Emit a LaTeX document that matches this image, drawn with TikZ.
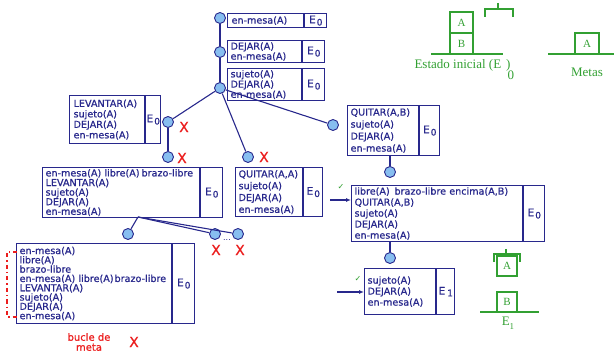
\documentclass[tikz,border=0pt]{standalone}
\usepackage{fontspec}
\setmainfont{DejaVu Sans}
\newfontfamily\stkf{DejaVu Sans}[FakeBold=0.8]
\newfontfamily\tms{Liberation Serif}
\usetikzlibrary{arrows.meta,positioning}
\definecolor{navy}{RGB}{40,40,140}
\definecolor{skyb}{RGB}{135,190,240}
\definecolor{redx}{RGB}{235,30,30}
\definecolor{grn}{RGB}{50,160,50}
\newcommand{\Ez}{E\kern1pt\raisebox{-0.4ex}{\small 0}}
\tikzset{
    x=1pt, y=-1pt,
    link/.style={navy, line width=1.1pt},
    stk/.style={draw=navy, line width=1.2pt, anchor=north west, align=left, inner xsep=3pt, inner ysep=0pt,
        text=navy, font=\stkf\fontsize{9.6}{9.6}\selectfont},
    lead/.style={font=\stkf\fontsize{9.6}{#1}\selectfont},
    ecell/.style={draw=navy, line width=1.2pt, anchor=north west, inner sep=0pt, text=navy,
        font=\stkf\fontsize{10.5}{10.5}\selectfont},
    dot/.style={circle, draw=navy, fill=skyb, line width=0.9pt, minimum size=11pt, inner sep=0pt},
    fail/.style={text=redx, font=\stkf\fontsize{14}{14}\selectfont},
    ok/.style={text=grn, font=\fontsize{8}{8}\selectfont},
    grnline/.style={grn, line width=1.1pt},
    blk/.style={draw=grn, line width=1.1pt, inner sep=0pt, text=grn, font=\tms\fontsize{11}{11}\selectfont},
    glbl/.style={text=grn, font=\tms\fontsize{13}{13}\selectfont}
}
\begin{document}
\begin{tikzpicture}
    \useasboundingbox (0,0) rectangle (615,352);

    % pila de metas inicial
    \node[dot] (c1) at (220,18) {};
    \node[stk, text width=68pt, minimum height=14pt, inner xsep=4pt] (b1) at (227,13) {en-mesa(A)};
    \node[ecell, minimum width=22pt, minimum height=14pt] (e1) at (b1.north east) {\Ez};
    \node[dot] (c2) at (220,52) {};
    \node[stk, lead=10, text width=68pt, minimum height=22pt] (b2) at (227,40) {DEJAR(A)\\en-mesa(A)};
    \node[ecell, minimum width=22pt, minimum height=22pt] (e2) at (b2.north east) {\Ez};
    \node[dot] (c3) at (220,88) {};
    \node[stk, lead=9.2, text width=68pt, minimum height=32pt] (b3) at (227,68) {sujeto(A)\\DEJAR(A)\\en-mesa(A)};
    \node[ecell, minimum width=22pt, minimum height=32pt] (e3) at (b3.north east) {\Ez};

    % ramas
    \node[dot] (c4) at (168,122) {};
    \node[dot] (c5) at (168,157) {};
    \node[dot] (c6) at (248,157) {};
    \node[dot] (c7) at (333,125) {};
    \node[dot] (c8) at (390,172) {};
    \node[dot] (c9) at (390,258) {};
    \node[dot] (c10) at (128,234) {};
    \node[dot] (c11) at (215,234) {};
    \node[dot] (c12) at (238,234) {};
    \coordinate (fork) at (138,217);

    \draw[link] (c1) -- (c2);
    \draw[link] (c2) -- (c3);
    \draw[link] (c3) -- (c4);
    \draw[link] (c3) -- (c6);
    \draw[link] (c3) -- (c7);
    \draw[link] (c4) -- (c5);
    \draw[link] (fork) -- (c10);
    \draw[link] (fork) -- (c11);
    \draw[link] (fork) -- (c12);

    % pilas
    \node[stk, lead=10.5, text width=67pt, minimum height=48pt, inner xsep=4pt] (bl) at (69,95) {LEVANTAR(A)\\sujeto(A)\\DEJAR(A)\\en-mesa(A)};
    \node[ecell, minimum width=15pt, minimum height=48pt] (el) at (bl.north east) {\Ez};

    \node[stk, lead=12, text width=65pt, minimum height=50pt] (bq) at (347,105) {QUITAR(A,B)\\sujeto(A)\\DEJAR(A)\\en-mesa(A)};
    \node[ecell, minimum width=20pt, minimum height=50pt] (eq) at (bq.north east) {\Ez};
    \draw[link] (c8 |- bq.south) -- (c8);

    \node[stk, lead=9.6, text width=151pt, minimum height=50pt] (bl2) at (42,167) {\mbox{en-mesa(A) libre(A)\kern2pt brazo-libre}\\LEVANTAR(A)\\sujeto(A)\\DEJAR(A)\\en-mesa(A)};
    \node[ecell, minimum width=22pt, minimum height=50pt] (el2) at (bl2.north east) {\Ez};

    \node[stk, lead=11.8, text width=61pt, minimum height=49pt] (bqa) at (235,167) {QUITAR(A,A)\\sujeto(A)\\DEJAR(A)\\en-mesa(A)};
    \node[ecell, minimum width=19pt, minimum height=49pt] (eqa) at (bqa.north east) {\Ez};

    \node[stk, lead=11, text width=165pt, minimum height=56pt] (br) at (351,185) {libre(A)\, brazo-libre encima(A,B)\\QUITAR(A,B)\\sujeto(A)\\DEJAR(A)\\en-mesa(A)};
    \node[ecell, minimum width=21pt, minimum height=56pt] (er) at (br.north east) {\Ez};
    \draw[link] (c9 |- br.south) -- (c9);
    \coordinate (qa) at (330,200);
    \draw[link, -{Latex[length=5pt,width=4pt]}] (qa) -- (qa -| br.west);

    \node[stk, lead=11, text width=65pt, minimum height=46pt] (be) at (364,268) {sujeto(A)\\DEJAR(A)\\en-mesa(A)};
    \node[ecell, minimum width=18pt, minimum height=46pt] (ee) at (be.north east) {E\kern2pt\raisebox{-0.3ex}{\small 1}};
    \coordinate (ea) at (337,292);
    \draw[link, -{Latex[length=5pt,width=4pt]}] (ea) -- (ea -| be.west);

    \node[stk, lead=9.3, text width=149pt, minimum height=80pt] (bl3) at (16,243) {en-mesa(A)\\libre(A)\\brazo-libre\\\mbox{en-mesa(A) libre(A)\kern1pt brazo-libre}\\LEVANTAR(A)\\sujeto(A)\\DEJAR(A)\\en-mesa(A)};
    \node[ecell, minimum width=22pt, minimum height=80pt] (el3) at (bl3.north east) {\Ez};

    % fallos y exitos
    \node[fail] (x1) at (184,127) {X};
    \node[fail] (x2) at (182,158) {X};
    \node[fail] (x3) at (264,157) {X};
    \node[fail] (x4) at (216,250) {X};
    \node[fail] (x5) at (240,250) {X};
    \node[fail] (x6) at (134,342) {X};
    \node[text=navy, font=\fontsize{8}{8}\selectfont] (dd) at (227,240) {...};
    \node[ok] (k1) at (341,187) {✓};
    \node[ok] (k2) at (358,279) {✓};
    \node[text=redx, align=center, font=\stkf\fontsize{10}{10}\selectfont] (bucle) at (89,342) {bucle de\\meta};
    \draw[redx, line width=1.2pt, dash pattern=on 4pt off 3pt on 1.5pt off 3pt] (17,252) -- (7,252) -- (7,317) -- (17,317);

    % estado inicial
    \draw[grnline] (431,54) -- (503,54);
    \node[blk, minimum width=23pt, minimum height=21pt] (bB) at (461.5,43.5) {B};
    \node[blk, minimum width=23pt, minimum height=21pt] (bA) at (461.5,22.5) {A};
    \draw[grnline] (498,3) -- (498,9) (485,17) -- (485,9) -- (513,9) -- (513,17);
    \node[glbl, anchor=west] (ini) at (411,70) {Estado inicial (E\hspace{5pt})\kern-3pt\raisebox{-11pt}{0}};

    % metas
    \draw[grnline] (548,54) -- (614,54);
    \node[blk, minimum width=24pt, minimum height=21pt] (mA) at (587,43.5) {A};
    \node[glbl] (met) at (587,72) {Metas};

    % estado E1
    \draw[grnline] (506,249) -- (506,254) (494,262) -- (494,254) -- (520,254) -- (520,262);
    \node[blk, minimum width=20pt, minimum height=20pt] (eA) at (507,266) {A};
    \node[blk, minimum width=20pt, minimum height=20pt] (eB) at (507,302) {B};
    \draw[grnline] (480,312) -- (539,312);
    \node[glbl] (e1lbl) at (508,323) {E\raisebox{-0.6ex}{\small 1}};
\end{tikzpicture}
\end{document}
